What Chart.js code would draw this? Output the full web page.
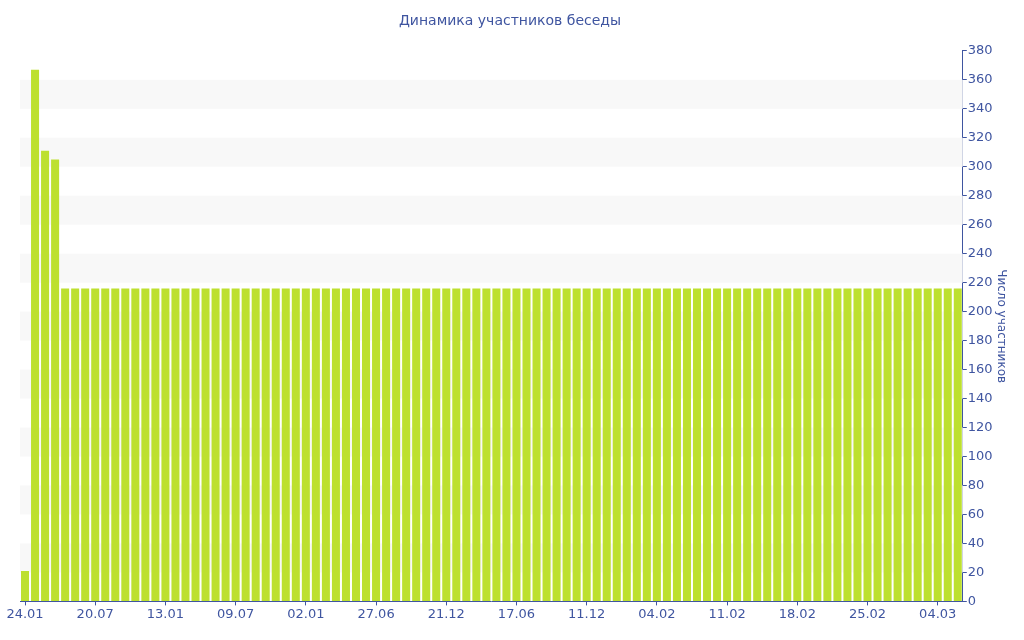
<!DOCTYPE html>
<html>
<head>
<meta charset="utf-8">
<script src="https://cdn.jsdelivr.net/npm/chart.js@4"></script>
<style>
  html, body { margin: 0; padding: 0; background: #fff; }
  #wrap { width: 1024px; height: 640px; }
</style>
</head>
<body>
<div id="wrap"><canvas id="myChart"></canvas></div>
<script>
const tickLabels = ['24.01', '20.07', '13.01', '09.07', '02.01', '27.06', '21.12',
  '17.06', '11.12', '04.02', '11.02', '18.02', '25.02', '04.03'];

const members = [
  21, 367, 311, 305, 216, 216, 216, 216, 216, 216,
  216, 216, 216, 216, 216, 216, 216, 216, 216, 216,
  216, 216, 216, 216, 216, 216, 216, 216, 216, 216,
  216, 216, 216, 216, 216, 216, 216, 216, 216, 216,
  216, 216, 216, 216, 216, 216, 216, 216, 216, 216,
  216, 216, 216, 216, 216, 216, 216, 216, 216, 216,
  216, 216, 216, 216, 216, 216, 216, 216, 216, 216,
  216, 216, 216, 216, 216, 216, 216, 216, 216, 216,
  216, 216, 216, 216, 216, 216, 216, 216, 216, 216,
  216, 216, 216, 216
];

// a label every 7th bar, the rest blank
const categories = members.map((v, i) => (i % 7 === 0 ? tickLabels[i / 7] : ''));

const blue = '#3f55a0';
const font = '"DejaVu Sans", sans-serif';

// grey stripes 20-40, 60-80, ...
const bands = {
  id: 'bands',
  beforeDatasetsDraw(chart) {
    const { ctx, chartArea, scales } = chart;
    const y = scales.y;
    ctx.save();
    ctx.fillStyle = '#f8f8f8';
    for (let v = 20; v < 380; v += 40) {
      const top = y.getPixelForValue(v + 20);
      const bot = y.getPixelForValue(v);
      ctx.fillRect(chartArea.left, top, chartArea.right - chartArea.left, bot - top);
    }
    ctx.restore();
  }
};

new Chart(document.getElementById('myChart'), {
  type: 'bar',
  data: {
    labels: categories,
    datasets: [{
      label: 'Число участников',
      data: members,
      xAxisID: 'x',
      yAxisID: 'y',
      backgroundColor: '#bde02f',
      borderWidth: 0,
      categoryPercentage: 1,
      barPercentage: 0.8
    }]
  },
  options: {
    responsive: true,
    maintainAspectRatio: false,
    animation: false,
    layout: { padding: { left: 4, right: 8, top: 0, bottom: 17 } },
    plugins: {
      legend: { display: false },
      tooltip: { enabled: false },
      title: {
        display: true,
        text: 'Динамика участников беседы',
        color: blue,
        font: { family: font, size: 14, weight: 'normal' },
        padding: { top: 13, bottom: 21 }
      }
    },
    scales: {
      x: {
        offset: true,
        grid: {
          offset: false,
          drawOnChartArea: false,
          tickLength: 4,
          color: (c) => (c.tick && c.tick.label ? blue : 'rgba(0,0,0,0)')
        },
        border: { color: blue, width: 1 },
        ticks: {
          autoSkip: false,
          maxRotation: 0,
          padding: 1,
          color: blue,
          font: { family: font, size: 13 },
          callback: (v, i) => categories[i]
        }
      },
      y: {
        position: 'right',
        min: 0,
        max: 380,
        grid: {
          drawOnChartArea: false,
          tickLength: 4,
          color: (c) => (c.tick && c.tick.value % 20 === 0 ? blue : '#b0b8d0')
        },
        border: { color: blue, width: 1 },
        ticks: {
          stepSize: 10,
          padding: 1,
          color: blue,
          font: { family: font, size: 13 },
          callback: (v) => (v % 20 === 0 ? v : '')
        },
        title: {
          display: true,
          text: 'Число участников',
          color: blue,
          font: { family: font, size: 12 },
          padding: { top: 8, bottom: 0 }
        }
      },
      // empty spacer on the left
      pad: {
        type: 'linear',
        position: 'left',
        grid: { display: false },
        border: { display: false },
        ticks: { display: false },
        afterFit: (s) => { s.width = 16; }
      }
    }
  },
  plugins: [bands]
});
</script>
</body>
</html>
